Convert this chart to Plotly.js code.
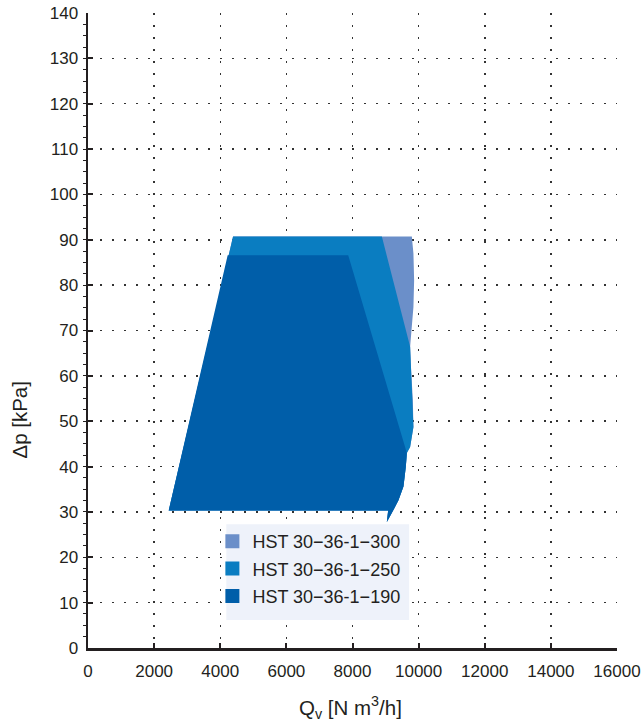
<!DOCTYPE html>
<html>
<head>
<meta charset="utf-8">
<script src="https://cdn.plot.ly/plotly-3.0.1.min.js"></script>
<style>html,body{margin:0;padding:0;background:#fff;}#chart{width:641px;height:726px;}</style>
</head>
<body>
<div id="chart"></div>
<script>
// Series names
const seriesNames = ["HST 30\u221236-1\u2212300", "HST 30\u221236-1\u2212250", "HST 30\u221236-1\u2212190"];
const seriesColors = ["#6b8fc9", "#0a7dc1", "#005ea9"];

// Operating envelopes (Qv [N m3/h], Δp [kPa])
const q300  = [4387, 9795, 9843, 9864, 9843, 9795, 9743, 9773, 9825, 9843, 9743, 9644, 9613, 9541, 9390, 9239, 9039, 9079, 2441];
const dp300 = [90.7, 90.7, 87.0, 81.1, 75.2, 70.8, 66.4, 61.3, 54.7, 48.7, 44.3, 43.0, 40.0, 35.6, 32.6, 30.4, 27.8, 30.3, 30.3];

const q250  = [4387, 8888, 9743, 9773, 9825, 9843, 9743, 9644, 9613, 9541, 9390, 9239, 9039, 9079, 2441];
const dp250 = [90.7, 90.7, 66.4, 61.3, 54.7, 48.7, 44.3, 43.0, 40.0, 35.6, 32.6, 30.4, 27.8, 30.3, 30.3];

const q190  = [4224, 7870, 9644, 9613, 9541, 9390, 9239, 9039, 9079, 2441];
const dp190 = [86.6, 86.6, 43.0, 40.0, 35.6, 32.6, 30.4, 27.8, 30.3, 30.3];

// Axis ticks
const xTicks = [0, 2000, 4000, 6000, 8000, 10000, 12000, 14000, 16000];
const yTicks = [0, 10, 20, 30, 40, 50, 60, 70, 80, 90, 100, 110, 120, 130, 140];

const FONT = "Liberation Sans, Arial, Helvetica, sans-serif";
const INK = "#231f20";

const polys = [[q300, dp300], [q250, dp250], [q190, dp190]];
const traces = [];
polys.forEach((p, i) => {
  traces.push({
    x: p[0], y: p[1], type: "scatter", mode: "lines",
    fill: "toself", fillcolor: seriesColors[i],
    line: {width: 0, color: seriesColors[i]},
    showlegend: false, hoverinfo: "skip"
  });
});
seriesNames.forEach((n, i) => {
  traces.push({
    x: [null], y: [null], type: "scatter", mode: "markers",
    name: n, legendgroup: "g" + i,
    marker: {symbol: "square", size: 14, color: seriesColors[i]},
    showlegend: true
  });
});

const layout = {
  width: 641, height: 726,
  margin: {l: 87.5, r: 24, t: 13, b: 78},
  paper_bgcolor: "#fff", plot_bgcolor: "#fff",
  font: {family: FONT, size: 17, color: INK},
  showlegend: true,
  legend: {
    x: (212 - 87.5) / 529.5, y: (648 - 523) / 635,
    xanchor: "left", yanchor: "top",
    bgcolor: "rgba(0,0,0,0)", borderwidth: 0,
    font: {family: FONT, size: 18, color: INK},
    traceorder: "grouped", tracegroupgap: 1,
    itemwidth: 30
  },
  xaxis: {
    range: [0, 16000], tickvals: xTicks, ticktext: xTicks.map(String),
    showline: true, linewidth: 2.5, linecolor: INK,
    ticks: "inside", ticklen: 5, tickwidth: 2, tickcolor: INK,
    zeroline: false, showgrid: true, gridcolor: "#333",
    griddash: "1.5px,10.5px", gridwidth: 1.5,
    tickfont: {family: FONT, size: 17, color: INK},
    ticklabelstandoff: 6, fixedrange: true
  },
  yaxis: {
    range: [0, 140], tickvals: yTicks, ticktext: yTicks.map(String),
    showline: true, linewidth: 2.5, linecolor: INK,
    ticks: "inside", ticklen: 5, tickwidth: 2, tickcolor: INK,
    minor: {dtick: 2.5, ticks: "outside", ticklen: 3, tickwidth: 1, tickcolor: INK, showgrid: false},
    zeroline: false, showgrid: true, gridcolor: "#333",
    griddash: "1.5px,10.5px", gridwidth: 1.5,
    tickfont: {family: FONT, size: 17, color: INK},
    ticklabelstandoff: 4, fixedrange: true
  },
  shapes: [{
    type: "rect", xref: "x", yref: "y", layer: "above",
    x0: 4184, x1: 9713, y0: 6.2, y1: 27.3,
    fillcolor: "#eef2fa", line: {width: 0}
  }],
  annotations: [
    {text: "\u0394p [kPa]", xref: "paper", yref: "paper",
     x: (18 - 87.5) / 529.5, y: (648 - 420) / 635, textangle: -90,
     xanchor: "center", yanchor: "middle", showarrow: false,
     font: {family: FONT, size: 20.5, color: INK}},
    {text: "Q<sub>v</sub> [N m<sup>3</sup>/h]", xref: "paper", yref: "paper",
     x: (350 - 87.5) / 529.5, y: (648 - 707) / 635,
     xanchor: "center", yanchor: "middle", showarrow: false,
     font: {family: FONT, size: 20.5, color: INK}}
  ]
};

Plotly.newPlot("chart", traces, layout, {displayModeBar: false, staticPlot: true});
</script>
</body>
</html>
